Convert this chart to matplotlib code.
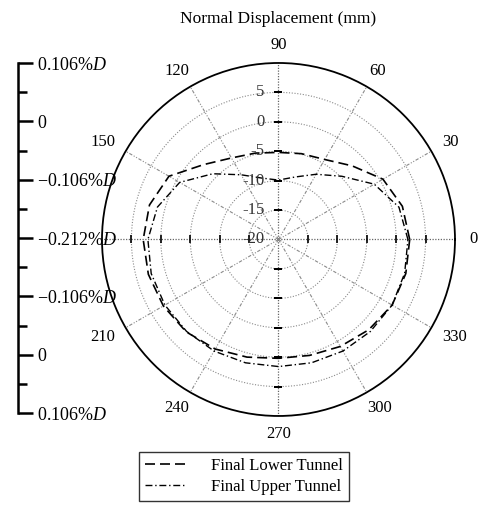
"""Polar plot of normal displacement around the tunnel lining."""

import numpy as np
import matplotlib
matplotlib.use("Agg")
import matplotlib.pyplot as plt

plt.rcParams["font.family"] = ["Liberation Serif", "DejaVu Serif"]
plt.rcParams["mathtext.fontset"] = "custom"
plt.rcParams["mathtext.rm"] = "Liberation Serif"
plt.rcParams["mathtext.it"] = "Liberation Serif:italic"

# angles in degrees, read every 15 deg
angles_deg = list(range(0, 375, 15))
lower_tunnel = [2.3, 1.8, 0.5, -2.3, -4.3, -4.9, -5.2, -4.8, -4.0, -2.0, 1.5, 2.7, 3.0,
                2.9, 2.6, 2.2, 1.5, 0.7, 0.2, 0.4, 1.0, 1.7, 2.3, 2.4, 2.3]
upper_tunnel = [2.0, 1.2, -1.2, -4.8, -7.2, -9.0, -9.9, -9.2, -7.3, -4.2, -0.6, 1.3, 2.2,
                2.4, 2.3, 2.1, 1.9, 1.7, 1.6, 1.7, 1.9, 2.1, 2.3, 2.2, 2.0]

ring_values = [-15, -10, -5, 0, 5]
ring_labels = ["5", "0", "-5", "-10", "-15", "-20"]
ring_label_values = [5, 0, -5, -10, -15, -20]
theta_ticks = list(range(0, 360, 30))
theta_labels = ["0", "30", "60", "90", "120", "150", "", "210", "240", "270", "300", "330"]
r_min, r_max = -20, 10

side_ticks = [3, 2, 1, 0, -1, -2, -3]
side_labels = ["0.106%$D$", "0", "\u22120.106%$D$", "\u22120.212%$D$",
               "\u22120.106%$D$", "0", "0.106%$D$"]

fig = plt.figure(figsize=(4.8, 5.07), dpi=100)

ax = fig.add_axes([0.2125, 0.1795, 0.7354, 0.6963], projection="polar")
ax.set_rlim(r_min, r_max)
ax.grid(False)
ax.set_yticks([])

th = np.deg2rad(angles_deg)
ln1, = ax.plot(th, lower_tunnel, color="black", lw=1.2, ls=(0, (6, 3)),
               label="Final Lower Tunnel")
ln2, = ax.plot(th, upper_tunnel, color="black", lw=1.0, ls=(0, (5, 2, 1, 2)),
               label="Final Upper Tunnel")

# rings
circ = np.deg2rad(np.arange(0, 361, 2))
for rv in ring_values:
    ax.plot(circ, np.full_like(circ, rv, dtype=float), color="#8a8a8a", lw=0.8,
            ls=(0, (1, 1.5)), zorder=1)
# spokes
for t in theta_ticks:
    if t % 90 == 0:
        style = dict(color="#666666", lw=0.9, ls=(0, (1, 1.2)))
    else:
        style = dict(color="#8a8a8a", lw=0.8, ls=(0, (3, 1.5, 1, 1.5, 1, 1.5)))
    ax.plot([np.deg2rad(t)] * 2, [r_min, r_max], zorder=1, **style)

# small ticks on the main axes at the rings
for t, mk in [(0, "|"), (180, "|"), (90, "_"), (270, "_")]:
    ax.plot([np.deg2rad(t)] * len(ring_values), ring_values, ls="none", marker=mk,
            ms=6, mew=1.2, color="black", zorder=3)

for lab, v in zip(ring_labels, ring_label_values):
    ax.annotate(lab, xy=(np.pi / 2, v), xytext=(-14, 0), textcoords="offset pixels",
                ha="right", va="center", fontsize=12, color="#333333", zorder=4)

ax.set_xticks(np.deg2rad(theta_ticks))
ax.set_xticklabels([""] * len(theta_ticks))
ax.tick_params(axis="x", direction="out", length=5, width=1.0)
ax.spines["polar"].set_linewidth(1.3)

# angle labels, kept clear of the rim by their own half width
for t, lab in zip(theta_ticks, theta_labels):
    a = np.deg2rad(t)
    dx = np.cos(a) * (14 + 4.2 * len(lab))
    dy = np.sin(a) * 18
    ax.annotate(lab, xy=(a, r_max), xytext=(dx, dy), textcoords="offset pixels",
                ha="center", va="center", fontsize=12)

fig.text(0.580, 0.962, "Normal Displacement (mm)", ha="center", va="center", fontsize=12.5)

# side scale
sax = fig.add_axes([0.0375 - 0.001, 0.1854, 0.001, 0.6903])
sax.set_ylim(-3, 3)
for s in ["left", "top", "bottom"]:
    sax.spines[s].set_visible(False)
sax.spines["right"].set_linewidth(1.8)
sax.set_xticks([])
sax.yaxis.tick_right()
sax.set_yticks(side_ticks)
sax.set_yticklabels(side_labels, fontsize=13)
sax.set_yticks([2.5, 1.5, 0.5, -0.5, -1.5, -2.5], minor=True)
sax.tick_params(axis="y", which="major", direction="out", length=11, width=1.8, pad=3)
sax.tick_params(axis="y", which="minor", direction="out", length=6.5, width=1.8)
sax.set_facecolor("none")

leg = fig.legend(handles=[ln1, ln2], loc="upper center", bbox_to_anchor=(0.508, 0.1085),
                 fontsize=12, frameon=True, fancybox=False, edgecolor="black",
                 borderpad=0.35, handlelength=2.4, labelspacing=0.3, handletextpad=1.6,
                 borderaxespad=0)
leg.get_frame().set_linewidth(1.0)

fig.savefig("out.png", dpi=100)
